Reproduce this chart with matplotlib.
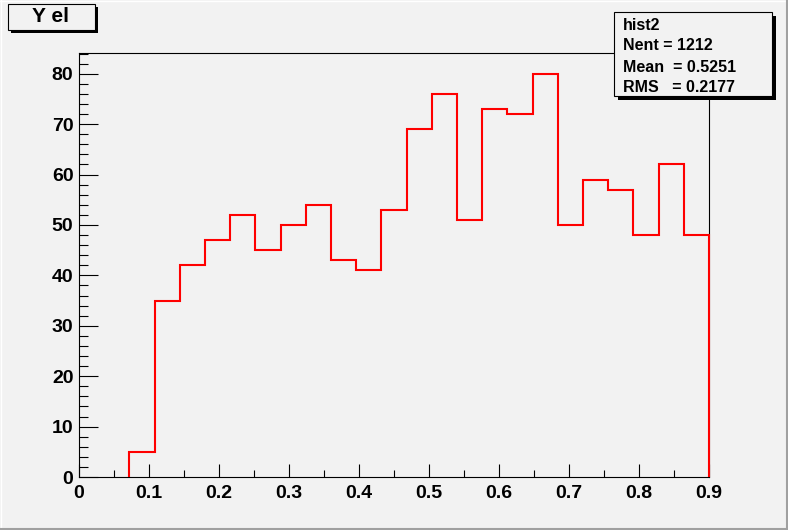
import numpy as np
import matplotlib
matplotlib.use("Agg")
import matplotlib.pyplot as plt
from matplotlib.patches import Rectangle
from matplotlib.ticker import MultipleLocator

# histogram contents (25 bins between 0 and 0.9)
x_min, x_max, n_bins = 0.0, 0.9, 25
counts = [0, 0, 5, 35, 42, 47, 52, 45, 50, 54, 43, 41, 53,
          69, 76, 51, 73, 72, 80, 50, 59, 57, 48, 62, 48]
title_text = "Y el"
stats_lines = ["hist2", "Nent = 1212", "Mean  = 0.5251", "RMS   = 0.2177"]

W, H = 788, 530
BG = "#f2f2f2"
plt.rcParams['font.family'] = ['Liberation Sans', 'DejaVu Sans']
plt.rcParams['font.weight'] = 'bold'

fig = plt.figure(figsize=(W / 100, H / 100), dpi=100, facecolor=BG)


def px_box(x0, y0, x1, y1):
    """pixel box (top-left origin) -> figure fraction rect"""
    return x0 / W, 1 - y1 / H, (x1 - x0) / W, (y1 - y0) / H


ax = fig.add_axes([79 / W, 1 - 477 / H, 630 / W, 424 / H])
ax.set_facecolor(BG)

edges = np.linspace(x_min, x_max, n_bins + 1)
# skip leading empty bins (the axis line is drawn there in the original)
first = next(i for i, c in enumerate(counts) if c > 0)
ax.stairs(counts[first:], edges[first:], color="red", linewidth=1.5, baseline=0,
          clip_on=False, zorder=3)

ax.set_xlim(x_min, x_max)
ax.set_ylim(0, 84.1)
ax.xaxis.set_major_locator(MultipleLocator(0.1))
ax.xaxis.set_minor_locator(MultipleLocator(0.05))
ax.yaxis.set_major_locator(MultipleLocator(10))
ax.yaxis.set_minor_locator(MultipleLocator(2))
ax.xaxis.set_major_formatter(lambda v, p: "0" if abs(v) < 1e-9 else f"{v:.1f}")

ax.tick_params(axis="x", which="major", direction="in", length=9.4, width=0.8, pad=6,
               labelsize=14)
ax.tick_params(axis="x", which="minor", direction="in", length=5, width=0.8)
ax.tick_params(axis="y", which="major", direction="in", length=13.7, width=0.8, pad=4,
               labelsize=14)
ax.tick_params(axis="y", which="minor", direction="in", length=6.5, width=0.8)
for lbl in ax.get_xticklabels() + ax.get_yticklabels():
    lbl.set_fontweight("bold")
for s in ax.spines.values():
    s.set_linewidth(0.8)
    s.set_color("black")

# canvas border
fig.add_artist(plt.Line2D([0, 1], [1 - 0.5 / H, 1 - 0.5 / H], color="white", lw=1,
                          transform=fig.transFigure))
fig.add_artist(plt.Line2D([0.5 / W, 0.5 / W], [0, 1], color="white", lw=1,
                          transform=fig.transFigure))
fig.add_artist(plt.Line2D([0, 1], [1.5 / H, 1.5 / H], color="#a0a0a0", lw=1.5,
                          transform=fig.transFigure))
fig.add_artist(plt.Line2D([1 - 1.5 / W, 1 - 1.5 / W], [0, 1], color="#a0a0a0", lw=1.5,
                          transform=fig.transFigure))


def shadow_box(x0, y0, x1, y1, off=4):
    sx, sy, sw, sh = px_box(x0 + off, y0 + off, x1 + off, y1 + off)
    fig.add_artist(Rectangle((sx, sy), sw, sh, transform=fig.transFigure,
                             facecolor="black", edgecolor="none", zorder=5))
    bx, by, bw, bh = px_box(x0, y0, x1, y1)
    fig.add_artist(Rectangle((bx, by), bw, bh, transform=fig.transFigure,
                             facecolor=BG, edgecolor="black", linewidth=0.8, zorder=6))


# title box
shadow_box(8, 4, 95, 30, off=3)
fig.text(51 / W, 1 - 17 / H, title_text, ha="center", va="center", fontsize=15,
         fontweight="bold", zorder=7)

# stats box
shadow_box(614, 12, 772, 96, off=4)
for i, line in enumerate(stats_lines):
    fig.text(623 / W, 1 - (25 + i * 21) / H, line, ha="left", va="center",
             fontsize=11.5, fontweight="bold", zorder=7)

fig.savefig("out.png", dpi=100, facecolor=BG)
